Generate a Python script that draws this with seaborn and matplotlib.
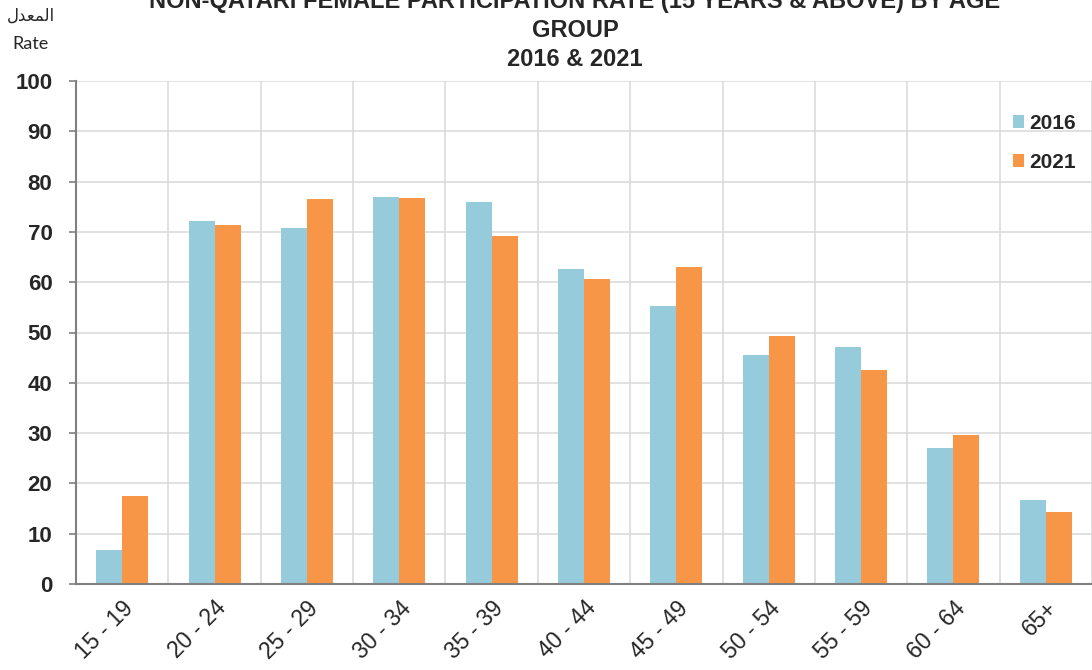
import matplotlib
matplotlib.use('Agg')
import numpy as np
import pandas as pd
import matplotlib.pyplot as plt
import seaborn as sns

# data
ages = ['15 - 19', '20 - 24', '25 - 29', '30 - 34', '35 - 39', '40 - 44',
        '45 - 49', '50 - 54', '55 - 59', '60 - 64', '65+']
years = ['2016', '2021']
rate_2016 = [6.8, 72.2, 70.8, 76.9, 76.0, 62.7, 55.2, 45.6, 47.2, 27.1, 16.7]
rate_2021 = [17.4, 71.4, 76.6, 76.8, 69.1, 60.6, 63.1, 49.4, 42.6, 29.7, 14.3]
y_ticks = list(range(0, 101, 10))

title_lines = ['NON-QATARI FEMALE PARTICIPATION RATE (15 YEARS & ABOVE) BY AGE',
               'GROUP', '2016 & 2021']
# "المعدل" written in shaped presentation forms (visual order), since matplotlib does no Arabic shaping
label_ar = '\uFEDD\uFEAA\uFECC\uFEE4\uFEDF\uFE8D'
label_en = 'Rate'

colors = {'2016': '#96CBDC', '2021': '#F79646'}
grid_c = '#d9d9d9'
axis_c = '#808080'

df = pd.DataFrame({
    'age': ages * 2,
    'rate': rate_2016 + rate_2021,
    'year': [years[0]] * len(ages) + [years[1]] * len(ages),
})

sns.set_style('white')
plt.rcParams['font.family'] = ['Liberation Sans', 'DejaVu Sans']

W, H = 1092, 670
fig = plt.figure(figsize=(W / 100, H / 100), dpi=100)
ax = fig.add_axes([76 / W, 86 / H, 1016 / W, 503 / H])

sns.barplot(data=df, x='age', y='rate', hue='year', palette=colors,
            width=0.563, saturation=1, errorbar=None, linewidth=0, ax=ax)

ax.set_xlim(-0.5, len(ages) - 0.5)
ax.set_ylim(0, 100)
ax.set_yticks(y_ticks)
ax.set_yticklabels([str(t) for t in y_ticks], fontsize=16, fontweight='bold')
ax.set_xticks(range(len(ages)))
ax.set_xticklabels(ages, rotation=45, ha='right', rotation_mode='anchor', fontsize=16.5)
ax.set_xticks(np.arange(-0.5, len(ages), 1), minor=True)
ax.set_xlabel('')
ax.set_ylabel('')

# nudge the rotated labels a little to the right, like the original
import matplotlib.transforms as mtransforms
shift = mtransforms.ScaledTranslation(6 / 100, 0, fig.dpi_scale_trans)
for lbl in ax.get_xticklabels():
    lbl.set_transform(lbl.get_transform() + shift)

ax.set_axisbelow(True)
ax.yaxis.grid(True, color=grid_c, lw=1.1)
ax.xaxis.grid(True, which='minor', color=grid_c, lw=1.1)
ax.xaxis.grid(False, which='major')

ax.tick_params(axis='x', which='major', length=0, pad=9)
ax.tick_params(axis='x', which='minor', length=5, width=1.2, color=axis_c, direction='out')
ax.tick_params(axis='y', length=5, width=1.2, color=axis_c, direction='out', pad=12, left=True)

for s in ['top', 'right']:
    ax.spines[s].set_visible(False)
for s in ['left', 'bottom']:
    ax.spines[s].set_color(axis_c)
    ax.spines[s].set_linewidth(1.5)

handles, labels = ax.get_legend_handles_labels()
ax.legend(handles, labels, loc='upper left', bbox_to_anchor=(1013 / W, 1 - 114 / H),
          bbox_transform=fig.transFigure, frameon=False, borderpad=0, borderaxespad=0,
          handlelength=0.55, handleheight=0.55, handletextpad=0.25, labelspacing=0.95,
          prop={'size': 15, 'weight': 'bold'})

for line, yb in zip(title_lines, [8, 37, 66]):
    fig.text(575 / W, 1 - yb / H, line, ha='center', va='baseline',
             fontsize=17, fontweight='bold')

fig.text(31 / W, 1 - 21 / H, label_ar, ha='center', va='baseline', fontsize=12,
         family=['DejaVu Sans'])
fig.text(31 / W, 1 - 49 / H, label_en, ha='center', va='baseline', fontsize=13,
         family=['Lato', 'DejaVu Sans'])

fig.savefig('out.png', dpi=100)
